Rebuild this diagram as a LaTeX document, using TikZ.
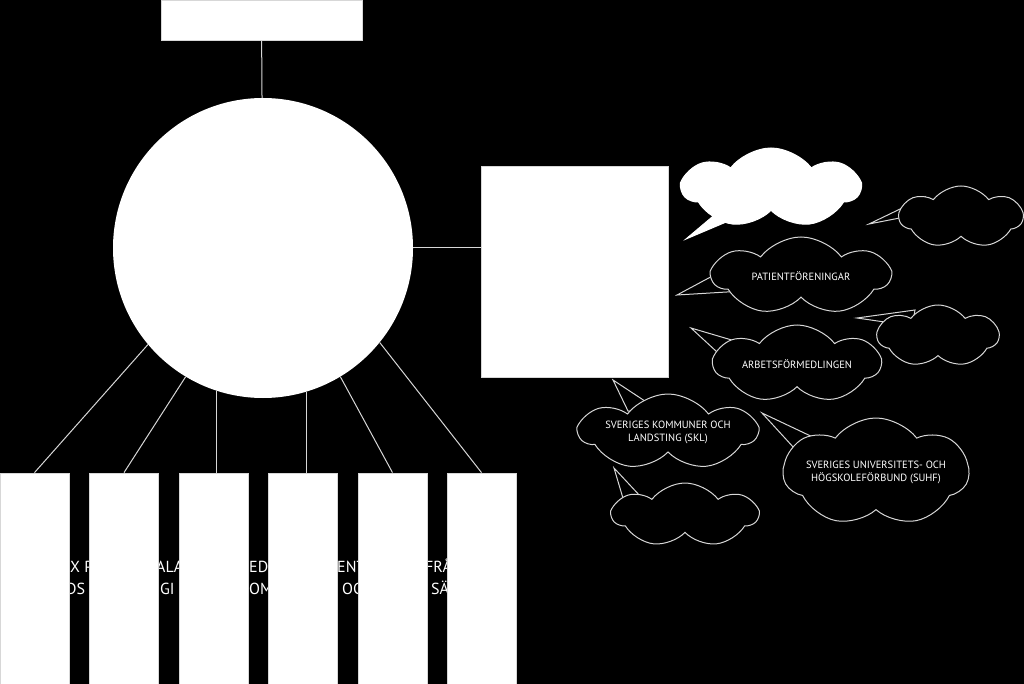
\documentclass[tikz,border=0pt]{standalone}
\usepackage{fontspec}
\setmainfont{PT Sans}
\usepackage{xcolor}
\definecolor{LineGrey}{RGB}{215,215,215}
\usetikzlibrary{shapes.symbols, shapes.geometric, calc, positioning}

\begin{document}
\begin{tikzpicture}[
  x=1pt, y=-1pt,
  plainbox/.style={
    draw=LineGrey,
    fill=white,
    line width=0.8pt,
    inner sep=0pt
  },
  link/.style={LineGrey, line width=1pt},
  puff/.style={
    cloud,
    cloud puffs=7,
    cloud puff arc=105,
    cloud ignores aspect,
    draw=LineGrey,
    fill=black,
    line width=1pt,
    inner sep=0pt,
    align=center,
    text=white,
    font=\fontsize{10.5}{13}\selectfont
  },
  wedge/.style={draw=LineGrey, fill=black, line width=1pt, line join=miter},
  shard/.style={text=white, anchor=base west, inner sep=0pt,
    font=\fontsize{16}{20}\selectfont}
]

\useasboundingbox (0,0) rectangle (1024,684);
\fill[black] (0,0) rectangle (1024,684);

\node[shard] (s1) at (70,572) {X P};
\node[shard] (s2) at (156,572) {ALA};
\node[shard] (s3) at (249,572) {ED};
\node[shard] (s4) at (337,572) {ENT};
\node[shard] (s5) at (425,572) {FRÅ};
\node[shard] (t1) at (66,594) {DS};
\node[shard] (t2) at (160,594) {GI};
\node[shard] (t3) at (249,594) {OM};
\node[shard] (t4) at (342,594) {OC};
\node[shard] (t5) at (431,594) {SÄ};

\node[plainbox, minimum width=201pt, minimum height=40pt] (top) at (261.5,20) {};

\node[circle, fill=white, minimum size=300pt, inner sep=0pt] (hub) at (263,248) {};

\node[plainbox, minimum width=187pt, minimum height=211pt] (panel) at (574.5,271.5) {};

\node[plainbox, minimum width=69pt, minimum height=211pt] (b1) at (34.5,578.5) {};
\node[plainbox, minimum width=69pt, minimum height=211pt] (b2) at (124,578.5) {};
\node[plainbox, minimum width=69pt, minimum height=211pt] (b3) at (213.5,578.5) {};
\node[plainbox, minimum width=69pt, minimum height=211pt] (b4) at (303,578.5) {};
\node[plainbox, minimum width=69pt, minimum height=211pt] (b5) at (392.5,578.5) {};
\node[plainbox, minimum width=69pt, minimum height=211pt] (b6) at (481.5,578.5) {};

\draw[link] (top) -- (hub);
\draw[link] (hub.east) -- (hub.east -| panel.west);
\draw[link] (hub.220) -- (b1.north);
\draw[link] (hub.239) -- (b2.north);
\draw[link] (hub.252) -- (hub.252 |- b3.north);
\draw[link] (hub.287) -- (hub.287 |- b4.north);
\draw[link] (hub.301.5) -- (b5.north);
\draw[link] (hub.321) -- (b6.north);

\coordinate (talkC) at (771,188);
\coordinate (talkTip) at (686,239);
\coordinate (blankNEC) at (961,217);
\coordinate (blankNETip) at (869,224);
\coordinate (patientC) at (801,276);
\coordinate (patientTip) at (677,295);
\coordinate (blankEC) at (938,336);
\coordinate (blankETip) at (857,318);
\coordinate (arbetsC) at (797,364);
\coordinate (arbetsTip) at (691,328);
\coordinate (sklC) at (668,432);
\coordinate (sklTip) at (613,380);
\coordinate (suhfC) at (876,472);
\coordinate (suhfTip) at (762,413);
\coordinate (blankSC) at (685,515);
\coordinate (blankSTip) at (614,468);

\filldraw[wedge, draw=white, fill=white] (talkTip) -- ($(talkC)+(-34,8)$) -- ($(talkC)+(-7,18)$) -- cycle;
\filldraw[wedge] (blankNETip) -- ($(blankNEC)+(-36,-20)$) -- ($(blankNEC)+(-46,-2)$) -- cycle;
\filldraw[wedge] (patientTip) -- ($(patientC)+(-55,-18)$) -- ($(patientC)+(-41,14)$) -- cycle;
\filldraw[wedge] (blankETip) -- ($(blankEC)+(-23,-26)$) -- ($(blankEC)+(-26,-10)$) -- cycle;
\filldraw[wedge] (arbetsTip) -- ($(arbetsC)+(-45,-18)$) -- ($(arbetsC)+(-67,0)$) -- cycle;
\filldraw[wedge] (sklTip) -- ($(sklC)+(-40,-21)$) -- ($(sklC)+(-8,-21)$) -- cycle;
\filldraw[wedge] (suhfTip) -- ($(suhfC)+(-40,-24)$) -- ($(suhfC)+(-60,0)$) -- cycle;
\filldraw[wedge] (blankSTip) -- ($(blankSC)+(-60,-10)$) -- ($(blankSC)+(-30,-3)$) -- cycle;

\node[puff, draw=white, fill=white, minimum width=177pt, minimum height=80pt] (talk) at (talkC) {};
\node[puff, minimum width=123pt, minimum height=62pt] (blankNE) at (blankNEC) {};
\node[puff, minimum width=177pt, minimum height=78pt] (patient) at (patientC)
  {PATIENTFÖRENINGAR};
\node[puff, minimum width=121pt, minimum height=62pt] (blankE) at (blankEC) {};
\node[puff, minimum width=166pt, minimum height=78pt] (arbets) at (arbetsC)
  {ARBETSFÖRMEDLINGEN};
\node[puff, minimum width=177pt, minimum height=76pt] (skl) at (sklC)
  {SVERIGES KOMMUNER OCH\\ LANDSTING (SKL)};
\node[puff, minimum width=182pt, minimum height=108pt] (suhf) at (suhfC)
  {SVERIGES UNIVERSITETS- OCH\\ HÖGSKOLEFÖRBUND (SUHF)};
\node[puff, minimum width=145pt, minimum height=64pt] (blankS) at (blankSC) {};

\end{tikzpicture}
\end{document}
